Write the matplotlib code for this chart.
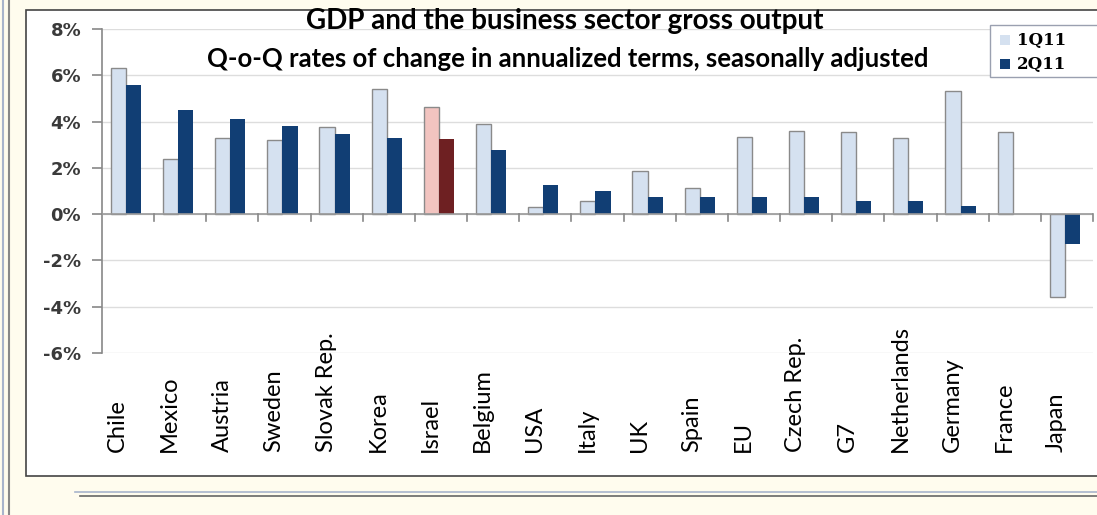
import numpy as np
import matplotlib.pyplot as plt
import matplotlib as mpl
from matplotlib.patches import Rectangle
from matplotlib.lines import Line2D

countries = ["Chile", "Mexico", "Austria", "Sweden", "Slovak Rep.", "Korea", "Israel",
             "Belgium", "USA", "Italy", "UK", "Spain", "EU", "Czech Rep.", "G7",
             "Netherlands", "Germany", "France", "Japan"]
q1 = [6.3, 2.4, 3.3, 3.2, 3.75, 5.4, 4.65, 3.9, 0.3, 0.55, 1.85, 1.15, 3.35, 3.6,
      3.55, 3.3, 5.3, 3.55, -3.6]
q2 = [5.6, 4.5, 4.1, 3.8, 3.45, 3.3, 3.25, 2.75, 1.25, 1.0, 0.75, 0.75, 0.75, 0.75,
      0.55, 0.55, 0.35, 0.0, -1.3]
series = ["1Q11", "2Q11"]
yticks = [-6, -4, -2, 0, 2, 4, 6, 8]
highlight = "Israel"

W, H = 1097, 515
fig = plt.figure(figsize=(W / 100, H / 100), dpi=100)
fig.patch.set_facecolor("#fffcee")
ft = fig.transFigure

# frame decoration
fig.add_artist(Rectangle((26 / W, 1 - 476 / H), 1.1, (476 - 10) / H, transform=ft,
                         facecolor="white", edgecolor="#444444", lw=1.2, zorder=0))
fig.add_artist(Line2D([3 / W, 3 / W], [0, 1], color="#a8b4cc", lw=1.5))
fig.add_artist(Line2D([9 / W, 9 / W], [0, 1], color="#888888", lw=1.5))
fig.add_artist(Line2D([75 / W, 1], [1 - 492 / H, 1 - 492 / H], color="#a8b4cc", lw=1.2))
fig.add_artist(Line2D([80 / W, 1], [1 - 496 / H, 1 - 496 / H], color="#666666", lw=1.2))

ax = fig.add_axes([102 / W, 1 - 353 / H, (1093 - 102) / W, (353 - 29) / H])
ax.set_facecolor("none")

x = np.arange(len(countries))
bw = 0.29
light, dark = "#d5e1f0", "#113e74"
c1 = ["#f2c4c0" if c == highlight else light for c in countries]
c2 = ["#6e2022" if c == highlight else dark for c in countries]
ax.bar(x - 0.04 - bw / 2, q1, bw, color=c1, edgecolor="#8a8a8a", lw=1.0, zorder=3)
ax.bar(x - 0.04 + bw / 2, q2, bw, color=c2, edgecolor="none", zorder=3)

ax.set_xlim(-0.5, len(countries) - 0.5)
ax.set_ylim(-6, 8)
ax.set_yticks(yticks)
ax.set_yticklabels([f"{v}%" for v in yticks], fontsize=13, color="#3a3a3a",
                   fontweight="bold", family="DejaVu Sans")
ax.yaxis.grid(True, color="#dddddd", lw=1, zorder=0)
ax.tick_params(axis="y", length=7, color="#888888", width=1.2, pad=8)
ax.set_xticks([])
for s in ["top", "right", "bottom"]:
    ax.spines[s].set_visible(False)
ax.spines["left"].set_color("#888888")
ax.spines["left"].set_linewidth(1.2)
ax.axhline(0, color="#999999", lw=1.2, zorder=4)
for b in np.arange(len(countries)) + 0.5:
    ax.plot([b, b], [0, -0.3], color="#888888", lw=1.2, zorder=4, clip_on=False)

trans = mpl.transforms.blended_transform_factory(ax.transData, ft)
for i, c in enumerate(countries):
    ax.text(i - 0.2, 1 - 452 / H, c, rotation=90, ha="center", va="bottom",
            fontsize=17, family="Lato", transform=trans)

fig.text(565 / W, 1 - 21 / H, "GDP and the business sector gross output", ha="center",
         va="center", fontsize=20, fontweight="bold", family="Lato")
fig.text(568 / W, 1 - 59 / H, "Q-o-Q rates of change in annualized terms, seasonally adjusted",
         ha="center", va="center", fontsize=18.5, fontweight="bold", family="Lato")

# legend box, running off the right edge as in the original
fig.add_artist(Rectangle((990 / W, 1 - 77 / H), 130 / W, 52 / H, transform=ft,
                         facecolor="white", edgecolor="#9aa0b0", lw=1.0, zorder=5))
for k, (lab, col) in enumerate(zip(series, [light, dark])):
    yc = 1 - (40 + 24 * k) / H
    fig.add_artist(Rectangle((1000 / W, yc - 5 / H), 10 / W, 10 / H, transform=ft,
                             facecolor=col, edgecolor="none", zorder=6))
    fig.text(1017 / W, yc, lab, ha="left", va="center", fontsize=12, fontweight="bold",
             family="DejaVu Serif", zorder=7)

fig.savefig("out.png", dpi=100, facecolor=fig.get_facecolor())
